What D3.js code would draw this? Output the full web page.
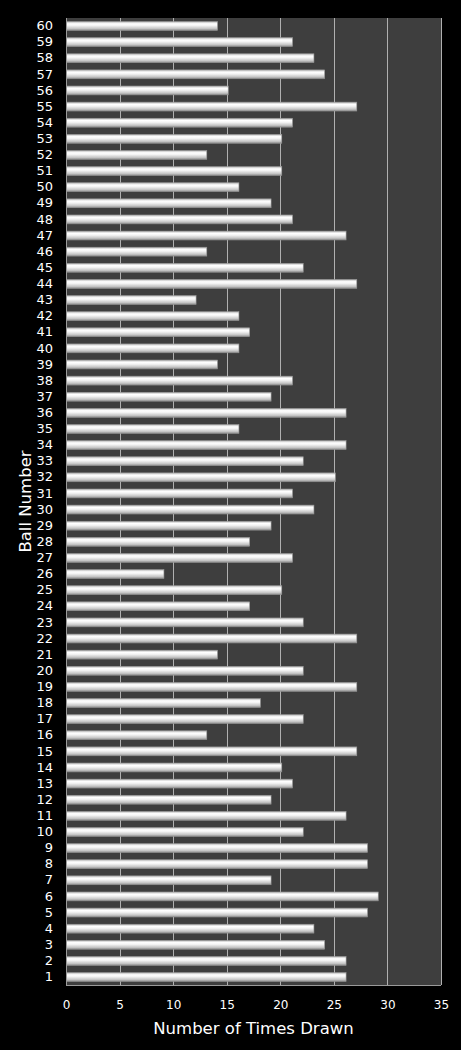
<!DOCTYPE html>
<html>
<head>
<meta charset="utf-8">
<script src="https://cdn.jsdelivr.net/npm/d3@7"></script>
<style>
  html, body { margin: 0; padding: 0; background: #000; }
  svg { display: block; }
</style>
</head>
<body>
<svg id="chart" width="461" height="1050"></svg>
<script>
// ball numbers 1..60, bottom to top
const balls = d3.range(1, 61)
const timesDrawn = [
  26, 26, 24, 23, 28, 29, 19, 28, 28, 22,
  26, 19, 21, 20, 27, 13, 22, 18, 27, 22,
  14, 27, 22, 17, 20, 9, 21, 17, 19, 23,
  21, 25, 22, 26, 16, 26, 19, 21, 14, 16,
  17, 16, 12, 27, 22, 13, 26, 21, 19, 16,
  20, 13, 20, 21, 27, 15, 24, 23, 21, 14
]
const xTicks = [0, 5, 10, 15, 20, 25, 30, 35]

const width = 461
const height = 1050
const margins = {top: 18, right: 20, bottom: 65, left: 66}
const innerWidth = width - margins.left - margins.right
const innerHeight = height - margins.top - margins.bottom

const svg = d3.select("#chart")

const defs = svg.append("defs")
const grad = defs.append("linearGradient")
  .attr("id", "barGrad")
  .attr("x1", 0).attr("y1", 0)
  .attr("x2", 0).attr("y2", 1)
grad.selectAll("stop")
  .data([
    {o: "0%", c: "#b8b8b8"},
    {o: "25%", c: "#ffffff"},
    {o: "45%", c: "#f4f4f4"},
    {o: "80%", c: "#c4c4c4"},
    {o: "100%", c: "#8a8a8a"}
  ])
  .enter()
  .append("stop")
  .attr("offset", d => d.o)
  .attr("stop-color", d => d.c)

const xScale = d3.scaleLinear()
  .domain([0, 35])
  .range([0, innerWidth])

const yScale = d3.scaleBand()
  .domain(balls.slice().reverse())
  .range([0, innerHeight])
  .paddingInner(0.45)
  .paddingOuter(0.22)

const g = svg.append("g")
  .attr("transform", `translate(${margins.left}, ${margins.top})`)

g.append("rect")
  .attr("width", innerWidth)
  .attr("height", innerHeight)
  .attr("fill", "#3e3e3e")

// vertical gridlines
g.append("g")
  .selectAll("line")
  .data(xTicks.slice(1))
  .enter()
  .append("line")
  .attr("x1", d => Math.round(xScale(d)) + 0.5)
  .attr("x2", d => Math.round(xScale(d)) + 0.5)
  .attr("y1", 0)
  .attr("y2", innerHeight)
  .attr("stroke", "#b0b0b0")
  .attr("stroke-width", 1)

// bars
g.append("g")
  .selectAll("rect")
  .data(balls)
  .enter()
  .append("rect")
  .attr("x", 0.5)
  .attr("y", d => yScale(d))
  .attr("width", d => xScale(timesDrawn[d - 1]) + 1)
  .attr("height", yScale.bandwidth())
  .attr("fill", "url(#barGrad)")
  .attr("stroke", "#9a9a9a")
  .attr("stroke-width", 0.6)

// axes lines
g.append("line")
  .attr("x1", 0.5).attr("x2", 0.5)
  .attr("y1", 0).attr("y2", innerHeight)
  .attr("stroke", "#9a9a9a")
g.append("line")
  .attr("x1", 0).attr("x2", innerWidth)
  .attr("y1", innerHeight + 0.5).attr("y2", innerHeight + 0.5)
  .attr("stroke", "#9a9a9a")

const fontFamily = "Verdana, 'DejaVu Sans', sans-serif"

// y axis
const yAxis = g.append("g")
  .call(d3.axisLeft(yScale).tickSize(0).tickPadding(13))
yAxis.select(".domain").remove()
yAxis.selectAll("text")
  .attr("fill", "#ffffff")
  .attr("font-size", 13)
  .attr("font-family", fontFamily)

// x axis
const xAxis = g.append("g")
  .attr("transform", `translate(0, ${innerHeight})`)
  .call(d3.axisBottom(xScale).tickValues(xTicks).tickSize(0).tickPadding(15))
xAxis.select(".domain").remove()
xAxis.selectAll("text")
  .attr("fill", "#ffffff")
  .attr("font-size", 12)
  .attr("font-family", fontFamily)

// axis titles
svg.append("text")
  .attr("x", margins.left + innerWidth / 2)
  .attr("y", 1034)
  .attr("text-anchor", "middle")
  .attr("fill", "#ffffff")
  .attr("font-size", 16.5)
  .attr("font-family", fontFamily)
  .text("Number of Times Drawn")

svg.append("text")
  .attr("transform", `translate(31, ${margins.top + innerHeight / 2}) rotate(-90)`)
  .attr("text-anchor", "middle")
  .attr("fill", "#ffffff")
  .attr("font-size", 16.5)
  .attr("font-family", fontFamily)
  .text("Ball Number")
</script>
</body>
</html>
